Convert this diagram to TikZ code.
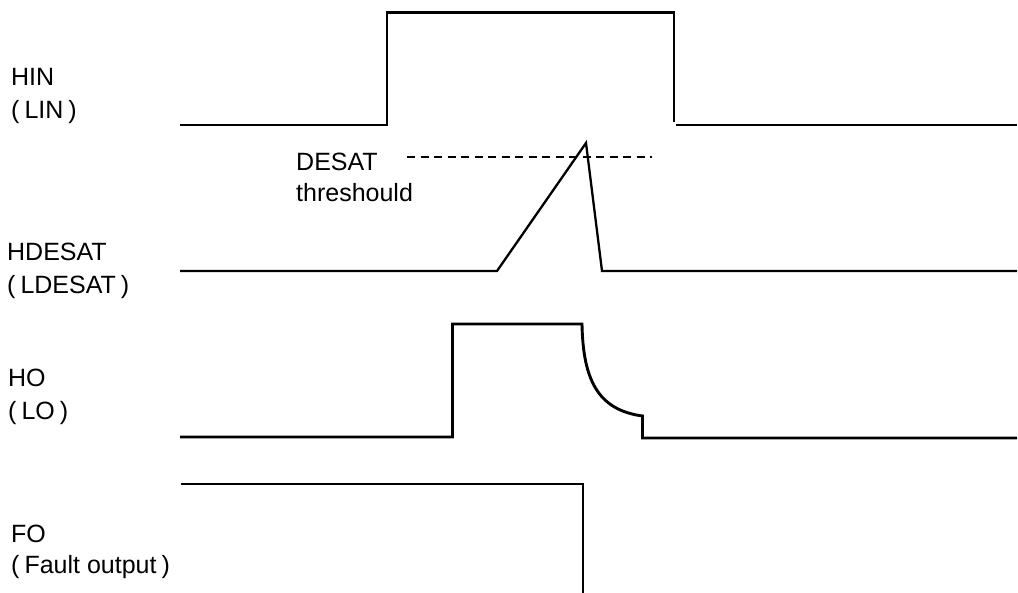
\documentclass[tikz,border=0pt]{standalone}
\usepackage{fontspec}
\setmainfont{Liberation Sans}
\begin{document}
\begin{tikzpicture}[x=1pt,y=-1pt,
  lbl/.style={anchor=base west,inner sep=0pt,font=\fontsize{25}{30}\selectfont},
  wave/.style={line width=2.9pt,line join=miter},
  thinwave/.style={line width=2.3pt,line join=miter},
  thr/.style={line width=1.4pt,dash pattern=on 8pt off 5.5pt}]
\useasboundingbox (0,0) rectangle (1018,593);
\newcommand{\paren}[1]{(\kern5pt #1\kern5pt)}

% signal names
\node[lbl] (hin)    at (11,86)  {HIN};
\node[lbl] (lin)    at (11,119) {\paren{LIN}};
\node[lbl] (hdesat) at (7,261)  {HDESAT};
\node[lbl] (ldesat) at (7,294)  {\paren{LDESAT}};
\node[lbl] (ho)     at (8,387)  {HO};
\node[lbl] (lo)     at (8,420)  {\paren{LO}};
\node[lbl] (fo)     at (11,542) {FO};
\node[lbl] (fault)  at (11,573) {\paren{Fault output}};
\node[lbl] (desat)  at (296,171) {DESAT};
\node[lbl] (thrtxt) at (296,202) {threshould};

% HIN / LIN
\draw[wave] (180,125) -- (387,125) -- (387,12.5) -- (674,12.5) -- (674,122);
\draw[wave] (676,125) -- (1017,125);

% DESAT threshold
\draw[thr] (407,157) -- (652,157);

% HDESAT / LDESAT
\draw[thinwave] (180,271) -- (497,271) -- (586,143) -- (602,271) -- (1017,271);

% HO / LO
\draw[wave] (180,437) -- (452.5,437) -- (452.5,324) -- (582,324)
  .. controls (583,380) and (598,410) .. (642.5,416) -- (642.5,438) -- (1017,438);

% FO
\draw[wave] (181,484) -- (583,484) -- (583,593);
\end{tikzpicture}
\end{document}
